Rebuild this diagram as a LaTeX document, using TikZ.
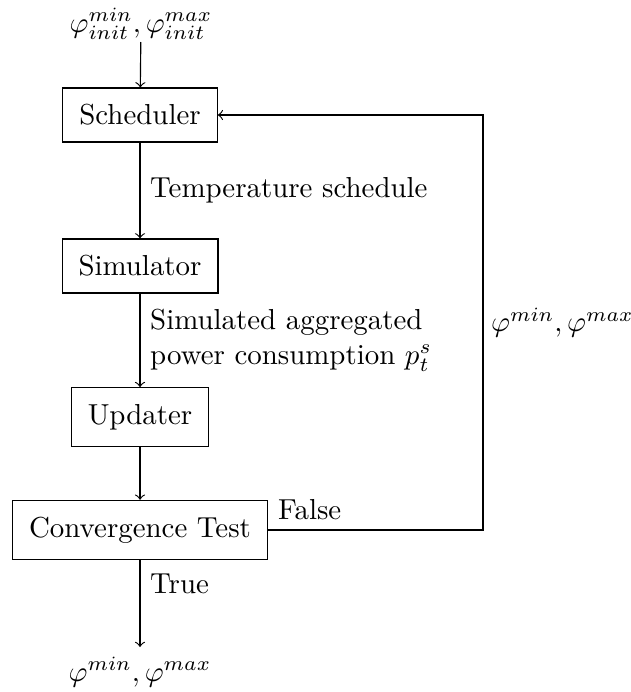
\documentclass[tikz,border=0pt]{standalone}
\usepackage{amsmath}
\begin{document}
\begin{tikzpicture}[x=0.346pt, y=-0.346pt,
  blk/.style={draw, rectangle, inner sep=0.2cm},
  lbl/.style={inner sep=0.3333em},
  >=to]
\useasboundingbox (0,0) rectangle (630,692);
\node[inner sep=0.6pt] (top) at (141,24) {$\varphi_{init}^{min}, \varphi_{init}^{max}$};
\node[blk] (sched) at (140,115) {Scheduler};
\node[blk] (sim) at (140,266) {Simulator};
\node[blk] (upd) at (140,417) {Updater};
\node[blk] (conv) at (140,530) {Convergence Test};
\node[lbl] (out) at (140,672) {$\varphi^{min}, \varphi^{max}$};
\coordinate (fb) at (483,530);
\draw[->] (top) -- (sched);
\draw[->] (sched) -- node[right, lbl] {Temperature schedule} (sim);
\draw[->] (sim) -- node[right, lbl, align=left] {Simulated aggregated\\power consumption $p_t^s$} (upd);
\draw[->] (upd) -- (conv);
\draw[->] (conv) -- node[pos=0.27, right, lbl] {True} (out);
\draw[->] (conv.east) -- node[pos=0, above right, lbl] {False} (fb) |- node[pos=0.25, right, inner sep=2.6pt] {$\varphi^{min}, \varphi^{max}$} (sched.east);
\end{tikzpicture}
\end{document}
